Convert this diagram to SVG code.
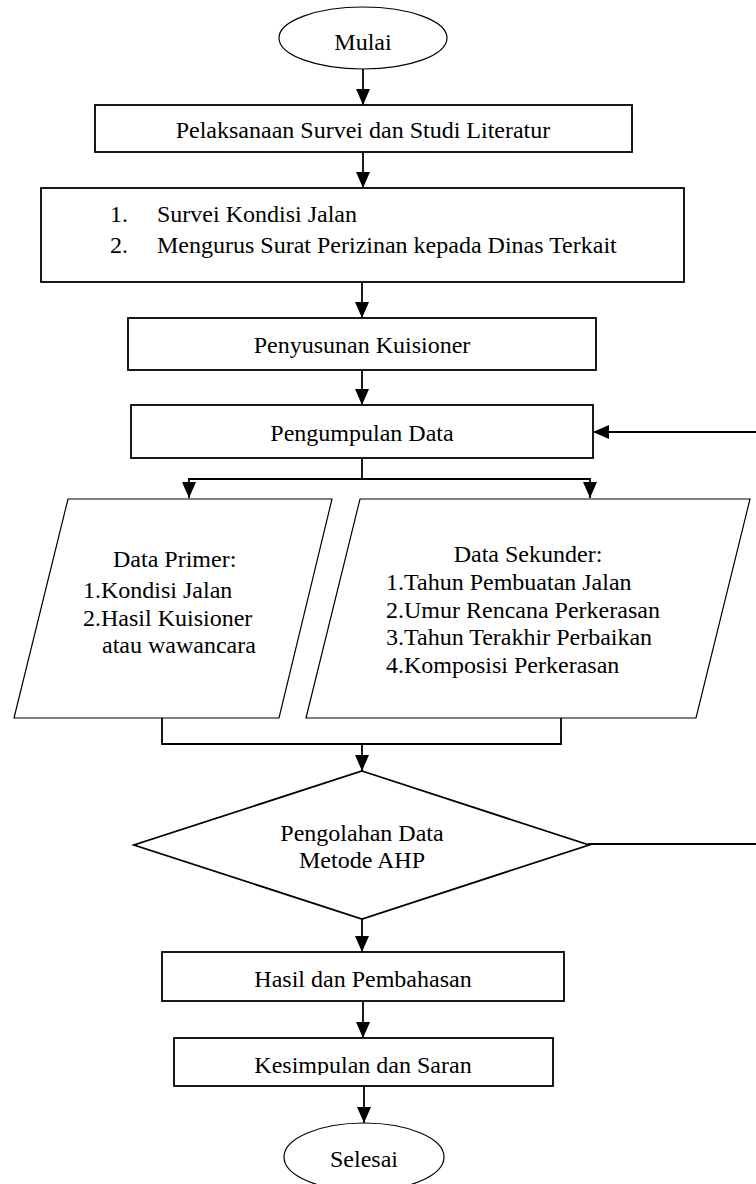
<svg xmlns="http://www.w3.org/2000/svg" width="756" height="1184" viewBox="0 0 756 1184">
<style>
.t{font-family:"Liberation Serif","Times New Roman",serif;font-size:24px;fill:#000}
.m{text-anchor:middle}
.box{fill:#fff;stroke:#000;stroke-width:1.8}
.thin{fill:#fff;stroke:#000;stroke-width:1.2}
.c{fill:none;stroke:#000;stroke-width:1.8}
</style>
<defs>
<marker id="ah" markerUnits="userSpaceOnUse" markerWidth="16" markerHeight="14" refX="16" refY="7" orient="auto">
<path d="M0,0 L16,7 L0,14 z" fill="#000"/>
</marker>
<clipPath id="kclip"><rect x="174" y="1038" width="379" height="37"/></clipPath>
</defs>
<rect width="756" height="1184" fill="#fff"/>
<g id="connectors">
<path class="c" d="M363,69 V105" marker-end="url(#ah)"/>
<path class="c" d="M363,152 V188" marker-end="url(#ah)"/>
<path class="c" d="M362,282 V318" marker-end="url(#ah)"/>
<path class="c" d="M362,370 V405" marker-end="url(#ah)"/>
<path class="c" d="M362,458 V479"/>
<path class="c" d="M362,479 H189 V498" marker-end="url(#ah)"/>
<path class="c" d="M362,479 H590 V498" marker-end="url(#ah)"/>
<path class="c" d="M162,718 V744 H561 V718"/>
<path class="c" d="M362,744 V771" marker-end="url(#ah)"/>
<path class="c" d="M362,919 V952" marker-end="url(#ah)"/>
<path class="c" d="M363,1001 V1038" marker-end="url(#ah)"/>
<path class="c" d="M364,1086 V1123" marker-end="url(#ah)"/>
<path class="c" d="M588,844 H756"/>
<path class="c" d="M756,432 H593" marker-end="url(#ah)"/>
</g>
<g id="mulai">
<ellipse class="thin" cx="363" cy="38" rx="84" ry="31"/>
<text class="t m" x="363" y="50">Mulai</text>
</g>
<g id="pelaksanaan">
<rect class="box" x="95" y="105" width="537" height="47"/>
<text class="t m" x="363" y="138">Pelaksanaan Survei dan Studi Literatur</text>
</g>
<g id="survei">
<rect class="box" x="41" y="188" width="643" height="94" stroke-width="2.2"/>
<text class="t" x="110" y="222">1.</text>
<text class="t" x="157" y="222">Survei Kondisi Jalan</text>
<text class="t" x="110" y="253">2.</text>
<text class="t" x="157" y="253">Mengurus Surat Perizinan kepada Dinas Terkait</text>
</g>
<g id="penyusunan">
<rect class="box" x="128" y="318" width="468" height="52"/>
<text class="t m" x="362" y="353">Penyusunan Kuisioner</text>
</g>
<g id="pengumpulan">
<rect class="box" x="131" y="405" width="462" height="53"/>
<text class="t m" x="362" y="441">Pengumpulan Data</text>
</g>
<g id="primer">
<polygon class="thin" points="68,499 332,499 279,718 14,718"/>
<text class="t" x="113" y="567">Data Primer:</text>
<text class="t" x="83" y="598">1.Kondisi Jalan</text>
<text class="t" x="83" y="626">2.Hasil Kuisioner</text>
<text class="t" x="102" y="653">atau wawancara</text>
</g>
<g id="sekunder">
<polygon class="thin" points="360,499 750,499 696,718 306,718"/>
<text class="t m" x="528" y="562">Data Sekunder:</text>
<text class="t" x="386" y="590">1.Tahun Pembuatan Jalan</text>
<text class="t" x="386" y="618">2.Umur Rencana Perkerasan</text>
<text class="t" x="386" y="645">3.Tahun Terakhir Perbaikan</text>
<text class="t" x="386" y="673">4.Komposisi Perkerasan</text>
</g>
<g id="pengolahan">
<polygon class="box" points="362,771 589,845 362,919 134,845"/>
<text class="t m" x="362" y="841">Pengolahan Data</text>
<text class="t m" x="362" y="868">Metode AHP</text>
</g>
<g id="hasil">
<rect class="box" x="162" y="952" width="402" height="49"/>
<text class="t m" x="363" y="987">Hasil dan Pembahasan</text>
</g>
<g id="kesimpulan">
<rect class="box" x="174" y="1038" width="379" height="48"/>
<text class="t m" x="363" y="1073" clip-path="url(#kclip)">Kesimpulan dan Saran</text>
</g>
<g id="selesai">
<ellipse class="thin" cx="364" cy="1157" rx="80" ry="34"/>
<text class="t m" x="364" y="1167">Selesai</text>
</g>
</svg>
